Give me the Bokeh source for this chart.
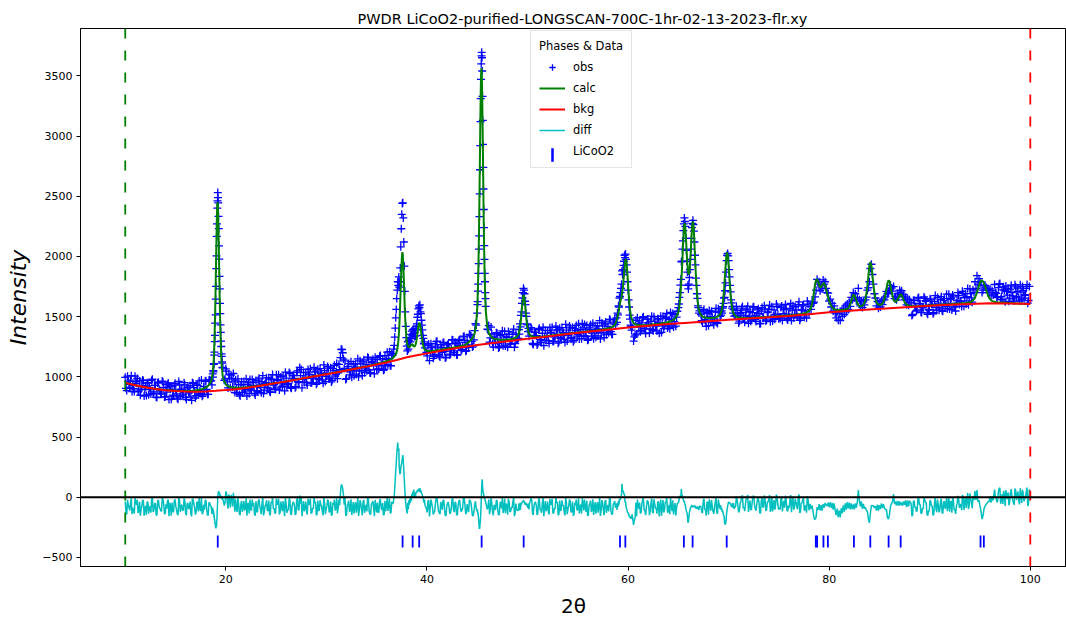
import numpy as np
from bokeh.plotting import figure
from bokeh.models import Range1d, Span, Legend, LegendItem, FixedTicker, BoxAnnotation
from bokeh.embed import file_html
from bokeh.resources import INLINE

# ---------------- data ----------------
bkg_x = [10, 11, 12, 13, 14, 15, 16, 17, 18, 19, 20, 21, 22, 23, 24, 25, 26, 27, 28, 29,
         30, 31, 32, 33, 34, 35, 36, 37, 38, 39, 40, 41, 42, 43, 44, 45, 46, 47, 48, 49,
         50, 52, 54, 56, 58, 60, 62, 64, 66, 68, 70, 72, 74, 76, 78, 80, 82, 84, 86, 88,
         90, 92, 94, 96, 98, 100]
bkg_y = [950, 930, 913, 899, 889, 882, 878, 877, 879, 884, 890, 898, 908, 920, 934, 948, 962, 977, 992, 1007,
         1022, 1037, 1053, 1069, 1085, 1102, 1120, 1140, 1163, 1180, 1195, 1210, 1225, 1239, 1252, 1264, 1275, 1286, 1296, 1306,
         1316, 1336, 1355, 1374, 1392, 1410, 1424, 1438, 1450, 1462, 1474, 1484, 1494, 1505, 1520, 1537, 1549, 1560, 1570, 1580,
         1590, 1598, 1606, 1612, 1610, 1605]

tick_pos = [19.20, 37.58, 38.58, 39.23, 45.44, 49.62, 59.20, 59.73, 65.55, 66.42, 69.81,
            78.67, 78.80, 79.43, 79.87, 82.46, 84.09, 85.91, 87.11, 95.05, 95.38]

# ---- observed / calculated intensities, scan pieces ----
obs_a = [996, 886, 963, 912, 1010, 928, 878, 963, 987, 883, 847, 930, 968, 894, 845, 949, 912, 857, 980, 874,
         929, 828, 955, 883, 856, 958, 832, 911, 937, 811, 896, 922, 841, 947, 859, 815, 934, 896, 849, 952,
         830, 908, 868, 927, 805, 946, 881, 843, 929, 966, 861, 839, 920, 963, 895, 855, 975, 966]
calc_a = [951, 948, 945, 942, 939, 936, 933, 930, 927, 924, 921, 918, 916, 913, 911, 909, 907, 905, 903, 901,
          900, 898, 897, 895, 894, 892, 891, 890, 889, 888, 887, 886, 885, 884, 884, 883, 883, 882, 882, 882,
          882, 882, 883, 883, 884, 885, 887, 889, 891, 893, 896, 899, 903, 908, 916, 926, 945, 964]

obs_w1 = [1025, 998, 1052, 1041, 1104, 1110, 1180, 1205, 1292, 1345, 1447, 1515, 1645, 1752, 1898, 2005, 2166, 2270, 2402, 2462,
          2530, 2488, 2445, 2332, 2231, 2088, 1978, 1835, 1731, 1610, 1525, 1432, 1370, 1296, 1252, 1190, 1170, 1125, 1114, 1079, 1074]
calc_w1 = [1031, 1050, 1077, 1111, 1147, 1197, 1252, 1318, 1395, 1487, 1579, 1687, 1808, 1930, 2051, 2168, 2278, 2364, 2425, 2450,
           2437, 2394, 2317, 2215, 2099, 1976, 1855, 1733, 1620, 1518, 1424, 1349, 1276, 1218, 1166, 1124, 1089, 1061, 1039, 1020, 1005]

obs_b = [971, 1067, 958, 1023, 912, 984, 1028, 870, 900, 984, 854, 934, 869, 961, 895, 841, 950, 979, 888, 927,
         863, 969, 880, 989, 911, 960, 861, 943, 992, 906, 881, 984, 1019, 935, 897, 969, 1018, 914, 952, 1007,
         884, 990, 936, 1037, 912, 984, 1012, 910, 1038, 960, 1078, 1062, 979, 954, 1036, 932, 1022, 1067, 951, 990,
         1039, 938, 1063, 987, 1030, 973, 1099, 961, 1030, 1072, 991, 958, 1068, 1096, 1021, 985, 1104, 1160, 1227, 1148,
         1132, 986, 1085, 1016, 1126, 1053, 1010, 1108, 1081, 999, 1133, 1055, 1124, 1035, 1104, 1163, 1057, 1033, 1129, 1094,
         1162, 1061, 1064, 1171, 1109, 1151, 1062, 1093, 1205, 1154, 1093, 1189]
calc_b = [961, 939, 926, 920, 916, 913, 911, 909, 909, 909, 910, 910, 911, 912, 912, 914, 915, 917, 919, 920,
          921, 923, 925, 927, 929, 930, 932, 935, 937, 939, 941, 943, 945, 947, 949, 950, 952, 954, 957, 959,
          961, 963, 965, 967, 970, 972, 974, 976, 979, 981, 983, 985, 988, 990, 992, 995, 997, 999, 1002, 1004,
          1006, 1008, 1011, 1013, 1015, 1017, 1020, 1022, 1024, 1026, 1029, 1031, 1033, 1036, 1038, 1040, 1043, 1045, 1047, 1050,
          1052, 1054, 1057, 1059, 1062, 1064, 1067, 1069, 1072, 1074, 1077, 1079, 1082, 1084, 1087, 1090, 1092, 1095, 1098, 1101,
          1104, 1107, 1110, 1113, 1116, 1120, 1124, 1128, 1132, 1137, 1142, 1147]

obs_w2 = [1195, 1230, 1262, 1330, 1405, 1490, 1560, 1650, 1720, 1790, 1760, 1830, 1745, 1790, 1905, 2080, 2230, 2350, 2440, 2445,
          2320, 2120, 1920, 1710, 1540, 1420, 1325, 1255, 1215, 1290, 1230, 1301, 1265, 1320, 1290, 1352, 1318, 1380, 1345, 1392,
          1360, 1398, 1335, 1372, 1340, 1395, 1420, 1440, 1495, 1520, 1565, 1590, 1575, 1598, 1540, 1525, 1470, 1430, 1390, 1345,
          1320, 1275, 1290, 1240]
calc_w2 = [1161, 1165, 1169, 1173, 1179, 1187, 1199, 1211, 1228, 1256, 1292, 1343, 1413, 1511, 1631, 1756, 1880, 1982, 2036, 2015,
           1933, 1816, 1689, 1566, 1468, 1393, 1339, 1294, 1270, 1256, 1249, 1246, 1248, 1251, 1256, 1264, 1268, 1271, 1271, 1264,
           1257, 1254, 1252, 1255, 1264, 1276, 1298, 1324, 1354, 1388, 1420, 1442, 1450, 1442, 1419, 1389, 1353, 1324, 1294, 1270,
           1253, 1239, 1230, 1224]

obs_c = [1204, 1259, 1135, 1275, 1209, 1171, 1256, 1296, 1187, 1164, 1244, 1284, 1210, 1162, 1265, 1239, 1189, 1309, 1215, 1289,
         1184, 1261, 1310, 1217, 1250, 1338, 1212, 1302, 1244, 1349, 1294, 1257, 1384, 1430]
calc_c = [1219, 1215, 1214, 1214, 1215, 1217, 1218, 1223, 1222, 1224, 1227, 1229, 1231, 1233, 1235, 1237, 1239, 1241, 1243, 1246,
          1248, 1250, 1253, 1256, 1259, 1263, 1268, 1278, 1286, 1300, 1311, 1330, 1364, 1440]

obs_w3 = [1530, 1600, 1625, 1712, 1770, 1860, 1940, 2060, 2170, 2330, 2520, 2720, 2920, 3120, 3310, 3470, 3600, 3665, 3695, 3650,
          3540, 3330, 3130, 2930, 2740, 2560, 2390, 2240, 2090, 1975, 1860, 1790, 1700, 1650, 1585]
calc_w3 = [1569, 1619, 1681, 1757, 1842, 1950, 2060, 2197, 2347, 2512, 2691, 2868, 3049, 3219, 3368, 3480, 3545, 3563, 3526, 3437,
           3311, 3150, 2978, 2801, 2622, 2445, 2287, 2152, 2016, 1904, 1807, 1727, 1654, 1601, 1550]

obs_d = [1397, 1426, 1324, 1356, 1248, 1321, 1367, 1277, 1248, 1350, 1382, 1297, 1256, 1328, 1377, 1272, 1309, 1365, 1246, 1354, 1310]
calc_d = [1417, 1364, 1342, 1326, 1319, 1313, 1312, 1310, 1308, 1309, 1308, 1309, 1308, 1309, 1311, 1312, 1314, 1317, 1323, 1327, 1339]

obs_w4 = [1320, 1392, 1355, 1440, 1415, 1510, 1540, 1610, 1655, 1700, 1735, 1720, 1690, 1628, 1600, 1530, 1502, 1440, 1432, 1375,
          1402, 1338, 1380]
calc_w4 = [1351, 1365, 1382, 1406, 1438, 1476, 1521, 1568, 1616, 1657, 1677, 1676, 1650, 1610, 1563, 1515, 1473, 1436, 1409, 1386,
           1372, 1360, 1352]

obs_e = [1409, 1277, 1345, 1370, 1265, 1391, 1312, 1286, 1412, 1328, 1302, 1384, 1278, 1368, 1412, 1295, 1333, 1382, 1280, 1404,
         1327, 1369, 1312, 1436, 1298, 1366, 1407, 1325, 1291, 1400, 1427, 1351, 1315, 1392, 1443, 1344, 1373, 1427, 1310, 1407,
         1338, 1446, 1373, 1328, 1425, 1398, 1315, 1448, 1371, 1439, 1350, 1419, 1478, 1375, 1353, 1455, 1435]
calc_e = [1339, 1335, 1333, 1332, 1331, 1332, 1333, 1334, 1335, 1337, 1338, 1340, 1341, 1343, 1344, 1346, 1347, 1349, 1350, 1352,
          1353, 1354, 1356, 1357, 1359, 1360, 1361, 1363, 1364, 1365, 1367, 1368, 1370, 1371, 1372, 1374, 1375, 1377, 1378, 1379,
          1381, 1382, 1384, 1385, 1386, 1389, 1390, 1392, 1395, 1397, 1399, 1402, 1405, 1410, 1415, 1424, 1442]

obs_w5 = [1490, 1452, 1530, 1515, 1590, 1580, 1655, 1668, 1700, 1735, 1770, 1880, 1850, 1890, 1925, 1960, 2010, 1990, 2020, 1975,
          1930, 1870, 1790, 1720, 1640, 1580, 1512, 1480, 1430, 1420, 1388, 1410]
calc_w5 = [1464, 1478, 1496, 1516, 1539, 1562, 1588, 1610, 1631, 1648, 1666, 1688, 1719, 1757, 1803, 1855, 1907, 1953, 1976, 1974,
           1945, 1897, 1836, 1766, 1705, 1647, 1596, 1556, 1527, 1503, 1486, 1472]

obs_f = [1297, 1347, 1356, 1439, 1465, 1385, 1491, 1403, 1360, 1479, 1446, 1399, 1504, 1383, 1462, 1422, 1483, 1362, 1504, 1439,
         1401, 1488, 1526, 1421, 1400, 1482, 1526, 1459, 1421, 1545]
calc_f = [1447, 1437, 1433, 1430, 1429, 1429, 1428, 1428, 1428, 1428, 1432, 1432, 1434, 1435, 1436, 1437, 1439, 1441, 1443, 1445,
          1447, 1450, 1453, 1456, 1460, 1465, 1471, 1480, 1492, 1515]

obs_w6 = [1575, 1605, 1660, 1700, 1762, 1810, 1955, 1960, 2060, 2130, 2215, 2270, 2320, 2290, 2250, 2150, 2050, 1960, 1870, 1760,
          1730, 1770, 1825, 1890, 1975, 2060, 2150, 2240, 2275, 2300, 2265, 2210, 2120, 2010, 1930, 1820, 1760, 1690, 1652, 1590,
          1575, 1530, 1548]
calc_w6 = [1540, 1559, 1584, 1622, 1666, 1728, 1804, 1874, 1963, 2063, 2149, 2231, 2271, 2272, 2232, 2163, 2086, 2005, 1938, 1889,
           1855, 1854, 1870, 1923, 1982, 2063, 2143, 2225, 2278, 2290, 2266, 2203, 2112, 2016, 1919, 1834, 1765, 1705, 1648, 1608,
           1578, 1556, 1540]

obs_g = [1517, 1451, 1561, 1465, 1534, 1425, 1500, 1545, 1451, 1481, 1569, 1444, 1533]
calc_g = [1515, 1501, 1493, 1493, 1491, 1489, 1489, 1488, 1490, 1490, 1494, 1500, 1509]

obs_w7 = [1502, 1540, 1512, 1548, 1530, 1570, 1582, 1610, 1655, 1660, 1715, 1780, 1870, 1965, 2010, 2025, 2005, 1965, 1890, 1830,
          1760, 1705, 1640, 1615, 1570, 1585, 1530, 1558, 1505]
calc_w7 = [1518, 1525, 1537, 1553, 1572, 1598, 1635, 1677, 1732, 1791, 1859, 1923, 1979, 2021, 2035, 2021, 1979, 1923, 1859, 1792,
           1733, 1678, 1636, 1599, 1573, 1554, 1538, 1526, 1519]

obs_h = [1511, 1553, 1447, 1524, 1570, 1481, 1454, 1554, 1587, 1502, 1462, 1534, 1582, 1476, 1512, 1566, 1441, 1546, 1491, 1591,
         1463, 1534, 1561, 1458, 1583, 1504, 1478, 1604, 1519, 1493, 1575, 1469, 1558, 1601, 1483, 1521, 1569, 1467, 1590, 1513,
         1556, 1499, 1623, 1485, 1554, 1598, 1517, 1488, 1604]
calc_h = [1504, 1498, 1493, 1491, 1490, 1489, 1489, 1488, 1488, 1489, 1489, 1490, 1491, 1491, 1492, 1493, 1493, 1494, 1495, 1496,
          1496, 1497, 1498, 1499, 1499, 1500, 1501, 1502, 1503, 1504, 1506, 1507, 1508, 1508, 1509, 1510, 1511, 1512, 1513, 1514,
          1516, 1518, 1519, 1521, 1523, 1527, 1530, 1536, 1544]

obs_w8 = [1520, 1585, 1560, 1622, 1610, 1620, 1665, 1720, 1810, 1770, 1790, 1715, 1760, 1730, 1805, 1770, 1790, 1735, 1700, 1695,
          1630, 1645, 1580, 1610, 1545, 1590, 1530]
calc_w8 = [1548, 1559, 1578, 1609, 1652, 1711, 1770, 1805, 1812, 1795, 1766, 1743, 1745, 1762, 1781, 1776, 1757, 1722, 1690, 1660,
           1632, 1606, 1588, 1576, 1567, 1561, 1559]

obs_w9 = [1490, 1540, 1470, 1525, 1468, 1545, 1502, 1570, 1518, 1590, 1540, 1605, 1560, 1620, 1585, 1660, 1640, 1700, 1660, 1690,
          1632, 1655, 1735, 1640, 1590, 1632, 1575, 1622, 1598, 1640, 1662, 1720, 1740, 1790, 1900, 1935, 1850, 1770, 1690, 1655,
          1590, 1625, 1570, 1612, 1580, 1632, 1600, 1648, 1640, 1665, 1710, 1690, 1700, 1730, 1760, 1738, 1712, 1750, 1650, 1668,
          1640, 1690, 1665, 1720, 1700, 1715, 1670, 1685, 1640, 1662, 1598, 1648, 1595, 1640]
calc_w9 = [1559, 1555, 1555, 1555, 1555, 1556, 1555, 1557, 1558, 1560, 1562, 1565, 1573, 1585, 1605, 1631, 1658, 1679, 1680, 1661,
           1637, 1613, 1596, 1587, 1586, 1586, 1591, 1598, 1613, 1642, 1693, 1757, 1839, 1923, 1953, 1922, 1842, 1761, 1698, 1649,
           1621, 1607, 1601, 1598, 1599, 1602, 1609, 1625, 1650, 1690, 1732, 1779, 1802, 1792, 1754, 1709, 1670, 1643, 1627, 1623,
           1628, 1641, 1656, 1675, 1685, 1678, 1660, 1639, 1622, 1608, 1599, 1594, 1590, 1590]

obs_i = [1615, 1518, 1636, 1585, 1557, 1659, 1609, 1534, 1573, 1651, 1627, 1519, 1555, 1640, 1601, 1534, 1675, 1553, 1613, 1572,
         1666, 1545, 1649, 1602, 1566, 1686, 1643, 1556, 1664, 1585, 1613, 1700, 1601, 1629, 1710, 1586, 1691, 1667, 1599, 1730,
         1656, 1722]
calc_i = [1587, 1586, 1586, 1587, 1587, 1588, 1588, 1589, 1590, 1591, 1592, 1592, 1593, 1594, 1595, 1595, 1596, 1597, 1598, 1598,
          1599, 1600, 1601, 1601, 1602, 1603, 1603, 1604, 1605, 1606, 1607, 1608, 1609, 1610, 1611, 1612, 1613, 1615, 1617, 1620,
          1625, 1635]

obs_w10 = [1700, 1790, 1735, 1840, 1770, 1815, 1790, 1760, 1700, 1720, 1760, 1760, 1745, 1730, 1720, 1700, 1730, 1672, 1718, 1680]
calc_w10 = [1644, 1658, 1678, 1701, 1729, 1759, 1784, 1798, 1801, 1793, 1776, 1754, 1725, 1699, 1677, 1658, 1646, 1637, 1631, 1627]

obs_j = [1767, 1694, 1666, 1769, 1643, 1722, 1748, 1623, 1709, 1734, 1654, 1761, 1672, 1629, 1747, 1709, 1661, 1764, 1641, 1719,
         1677, 1735, 1612, 1751]
calc_j = [1624, 1621, 1619, 1618, 1617, 1616, 1615, 1615, 1615, 1613, 1613, 1613, 1612, 1612, 1611, 1610, 1609, 1609, 1608, 1608,
          1607, 1606, 1606, 1605]

# ---- intermediate scan points (observed and calculated) between the points above ----
mid_a = [905, 1006, 938, 973, 877, 901, 1006, 947, 878, 966, 897, 974, 841, 922, 950, 852, 896, 969, 860, 929,
         832, 948, 895, 865, 965, 913, 836, 873, 949, 923, 814, 848, 931, 890, 823, 962, 839, 897, 856, 934,
         812, 915, 869, 832, 952, 910, 824, 933, 855, 884, 973, 851, 882, 967, 855, 972, 965, 933]
mcalc_a = [950, 947, 944, 941, 938, 935, 932, 929, 926, 923, 920, 917, 915, 912, 910, 908, 906, 904, 902, 901,
           899, 898, 896, 895, 893, 892, 891, 890, 889, 888, 887, 886, 885, 884, 884, 883, 883, 882, 882, 882,
           882, 883, 883, 884, 885, 886, 888, 890, 892, 895, 898, 901, 906, 912, 921, 934, 953, 991]
mid_b = [983, 1047, 908, 987, 1014, 915, 959, 973, 866, 937, 842, 960, 909, 882, 984, 935, 861, 901, 979, 955,
         849, 886, 972, 934, 868, 1010, 889, 951, 912, 992, 872, 977, 932, 897, 1017, 976, 890, 999, 922, 951,
         1039, 916, 945, 1027, 905, 1011, 987, 919, 1050, 953, 1011, 909, 1037, 986, 953, 1062, 1017, 948, 991, 1079,
         1048, 949, 979, 1069, 1024, 947, 1051, 1005, 1087, 982, 1075, 970, 1052, 1007, 1110, 1033, 1059, 1229, 1200, 1070,
         979, 1067, 1110, 1041, 997, 1105, 1073, 1022, 1150, 1048, 1107, 1010, 1141, 1073, 1050, 1157, 1034, 1117, 1147, 1025,
         1114, 1144, 1067, 1177, 1093, 1054, 1177, 1144, 1101, 1209, 1092, 1178]
mcalc_b = [947, 931, 923, 918, 915, 912, 910, 909, 909, 909, 910, 910, 911, 912, 913, 914, 916, 918, 919, 920,
           922, 924, 926, 928, 929, 931, 933, 936, 938, 940, 942, 944, 946, 948, 949, 951, 953, 955, 958, 960,
           962, 964, 966, 968, 971, 973, 975, 977, 980, 982, 984, 986, 989, 991, 993, 996, 998, 1000, 1003, 1005,
           1007, 1009, 1012, 1014, 1016, 1018, 1021, 1023, 1025, 1027, 1030, 1032, 1034, 1037, 1039, 1041, 1044, 1046, 1048, 1051,
           1053, 1055, 1058, 1060, 1063, 1065, 1068, 1070, 1073, 1075, 1078, 1080, 1083, 1085, 1088, 1091, 1093, 1096, 1099, 1102,
           1105, 1108, 1111, 1114, 1118, 1122, 1126, 1130, 1134, 1139, 1144, 1152]
mid_c = [1174, 1273, 1207, 1246, 1154, 1183, 1293, 1240, 1174, 1267, 1204, 1286, 1157, 1243, 1275, 1181, 1229, 1306, 1202, 1275,
         1181, 1302, 1253, 1228, 1332, 1287, 1218, 1265, 1353, 1340, 1247, 1307, 1441]
mcalc_c = [1220, 1215, 1214, 1215, 1216, 1218, 1220, 1223, 1223, 1225, 1228, 1230, 1232, 1234, 1236, 1238, 1240, 1242, 1245, 1247,
           1249, 1252, 1255, 1258, 1261, 1266, 1273, 1282, 1293, 1305, 1320, 1345, 1395]
mid_d = [1392, 1289, 1413, 1278, 1331, 1286, 1362, 1240, 1342, 1295, 1258, 1377, 1334, 1246, 1353, 1274, 1307, 1397, 1277, 1312]
mcalc_d = [1386, 1350, 1334, 1322, 1316, 1312, 1310, 1309, 1309, 1308, 1309, 1309, 1309, 1310, 1312, 1313, 1316, 1320, 1325, 1333]
mid_e = [1396, 1268, 1370, 1343, 1274, 1403, 1305, 1362, 1259, 1386, 1334, 1301, 1408, 1363, 1293, 1335, 1422, 1391, 1291, 1320,
         1409, 1363, 1286, 1388, 1342, 1423, 1317, 1409, 1303, 1384, 1338, 1440, 1363, 1317, 1406, 1435, 1335, 1304, 1391, 1432,
         1363, 1317, 1425, 1391, 1340, 1467, 1364, 1423, 1326, 1456, 1388, 1366, 1474, 1353, 1440, 1480]
mcalc_e = [1337, 1334, 1332, 1331, 1332, 1333, 1334, 1335, 1336, 1338, 1339, 1341, 1342, 1344, 1345, 1347, 1348, 1350, 1351, 1353,
           1354, 1355, 1357, 1358, 1360, 1361, 1362, 1364, 1365, 1366, 1368, 1369, 1371, 1372, 1373, 1375, 1376, 1378, 1379, 1380,
           1382, 1383, 1385, 1386, 1388, 1390, 1391, 1394, 1396, 1398, 1400, 1404, 1408, 1412, 1419, 1432]
mid_f = [1332, 1470, 1491, 1413, 1374, 1449, 1499, 1398, 1426, 1480, 1364, 1461, 1391, 1499, 1425, 1381, 1479, 1451, 1369, 1502,
         1424, 1493, 1405, 1475, 1535, 1433, 1413, 1517, 1496]
mcalc_f = [1442, 1435, 1431, 1430, 1429, 1428, 1428, 1428, 1428, 1430, 1432, 1433, 1434, 1435, 1436, 1438, 1440, 1442, 1444, 1446,
           1448, 1451, 1454, 1458, 1462, 1468, 1475, 1486, 1503]
mid_g = [1466, 1546, 1476, 1419, 1525, 1551, 1457, 1496, 1432, 1538, 1452, 1566]
mcalc_g = [1508, 1497, 1493, 1492, 1490, 1489, 1488, 1489, 1490, 1492, 1497, 1504]
mid_h = [1586, 1503, 1462, 1536, 1585, 1484, 1511, 1563, 1445, 1542, 1472, 1579, 1505, 1460, 1556, 1527, 1444, 1575, 1496, 1563,
         1472, 1539, 1596, 1489, 1463, 1556, 1519, 1585, 1482, 1484, 1589, 1525, 1502, 1564, 1472, 1500, 1609, 1554, 1489, 1582,
         1518, 1599, 1470, 1556, 1589, 1496, 1547, 1629]
mcalc_h = [1501, 1495, 1492, 1490, 1489, 1489, 1488, 1488, 1488, 1489, 1490, 1490, 1491, 1492, 1492, 1493, 1494, 1494, 1495, 1496,
           1496, 1497, 1498, 1499, 1500, 1500, 1501, 1502, 1503, 1505, 1506, 1507, 1508, 1508, 1509, 1510, 1511, 1512, 1513, 1515,
           1517, 1518, 1520, 1522, 1525, 1528, 1533, 1540]
mid_i = [1509, 1634, 1581, 1547, 1653, 1607, 1536, 1577, 1664, 1632, 1532, 1559, 1648, 1602, 1524, 1626, 1578, 1659, 1553, 1643,
         1552, 1633, 1586, 1687, 1609, 1563, 1651, 1679, 1579, 1547, 1634, 1675, 1630, 1584, 1691, 1657, 1606, 1733, 1631, 1691,
         1620]
mcalc_i = [1586, 1586, 1586, 1587, 1587, 1588, 1588, 1589, 1590, 1591, 1592, 1592, 1593, 1594, 1595, 1596, 1596, 1597, 1598, 1598,
           1599, 1600, 1601, 1601, 1602, 1603, 1603, 1604, 1605, 1606, 1607, 1608, 1609, 1610, 1611, 1612, 1614, 1616, 1618, 1622,
           1630]
mid_j = [1701, 1659, 1741, 1775, 1666, 1640, 1717, 1755, 1678, 1627, 1728, 1699, 1647, 1764, 1667, 1737, 1630, 1704, 1750, 1653,
         1682, 1766, 1634]
mcalc_j = [1622, 1620, 1618, 1617, 1616, 1615, 1615, 1615, 1614, 1613, 1613, 1612, 1612, 1611, 1610, 1609, 1609, 1608, 1608, 1607,
           1606, 1606, 1605]

scan_pieces = [
    (10.00, 0.15, obs_a, calc_a), (18.70, 0.025, obs_w1, calc_w1), (19.85, 0.15, obs_b, calc_b),
    (36.65, 0.05, obs_w2, calc_w2), (39.95, 0.15, obs_c, calc_c), (45.00, 0.025, obs_w3, calc_w3),
    (46.00, 0.15, obs_d, calc_d), (49.10, 0.05, obs_w4, calc_w4), (50.35, 0.15, obs_e, calc_e),
    (58.85, 0.05, obs_w5, calc_w5), (60.55, 0.15, obs_f, calc_f), (65.00, 0.05, obs_w6, calc_w6),
    (67.25, 0.15, obs_g, calc_g), (69.15, 0.05, obs_w7, calc_w7), (70.70, 0.15, obs_h, calc_h),
    (78.00, 0.10, obs_w8, calc_w8), (80.70, 0.10, obs_w9, calc_w9), (88.15, 0.15, obs_i, calc_i),
    (94.40, 0.10, obs_w10, calc_w10), (96.45, 0.15, obs_j, calc_j),
]
mid_pieces = [
    (10.075, 0.15, mid_a, mcalc_a), (19.925, 0.15, mid_b, mcalc_b), (40.025, 0.15, mid_c, mcalc_c),
    (46.075, 0.15, mid_d, mcalc_d), (50.425, 0.15, mid_e, mcalc_e), (60.625, 0.15, mid_f, mcalc_f),
    (67.325, 0.15, mid_g, mcalc_g), (70.775, 0.15, mid_h, mcalc_h), (88.225, 0.15, mid_i, mcalc_i),
    (96.525, 0.15, mid_j, mcalc_j),
]

DIFF_SHIFT = -80      # vertical offset of the difference curve
TICK_LEVEL = -368     # vertical level of the reflection markers


def collect(pieces):
    xs, o_all, c_all = [], [], []
    for start, step, o, c in pieces:
        n = min(len(o), len(c))
        xs.extend(start + step * np.arange(n))
        o_all.extend(o[:n])
        c_all.extend(c[:n])
    return np.array(xs), np.array(o_all, float), np.array(c_all, float)


tt, yo, yc = collect(scan_pieces)
order = np.argsort(tt)
tt, yo, yc = tt[order], yo[order], yc[order]

tm, ym, ycm = collect(mid_pieces)
all_x = np.concatenate([tt, tm])
all_o = np.concatenate([yo, ym])
all_c = np.concatenate([yc, ycm])
order = np.argsort(all_x)
all_x, all_o, all_c = all_x[order], all_o[order], all_c[order]
all_diff = all_o - all_c + DIFF_SHIFT

FONT = "DejaVu Sans"
p = figure(width=1066, height=623, output_backend="svg", toolbar_location=None,
           x_range=Range1d(5.55, 103.6), y_range=Range1d(-575, 3893),
           min_border_left=80, min_border_right=0, min_border_top=28, min_border_bottom=57,
           title="PWDR LiCoO2-purified-LONGSCAN-700C-1hr-02-13-2023-flr.xy")
p.title.text_font = FONT
p.title.text_font_size = "14.5px"
p.title.text_font_style = "normal"
p.title.text_color = "black"
p.title.align = "left"
p.title.offset = 277
p.title.standoff = 4
p.xgrid.visible = False
p.ygrid.visible = False
p.outline_line_color = "black"
p.outline_line_alpha = 1
p.background_fill_color = "white"

r_obs = p.scatter(all_x, all_o, marker="cross", size=8, line_color="#0000ff", line_width=1.3)
r_calc = p.line(tt, yc, line_color="#008000", line_width=2)
r_bkg = p.line(bkg_x, bkg_y, line_color="#ff0000", line_width=2)
r_diff = p.line(all_x, all_diff, line_color="#00bfbf", line_width=1.5)
r_tick = p.scatter(tick_pos, [TICK_LEVEL] * len(tick_pos), marker="dash", angle=90, angle_units="deg",
                   size=12, line_color="#0000ff", line_width=1.8)
r_tick_key = p.scatter([], [], marker="dash", size=1, line_alpha=0, fill_alpha=0)

p.add_layout(Span(location=10, dimension="height", line_color="#008000", line_dash="10 12", line_width=1.8))
p.add_layout(Span(location=100, dimension="height", line_color="#ff0000", line_dash="10 12", line_width=1.8))
p.add_layout(Span(location=0, dimension="width", line_color="black", line_width=2))

p.xaxis.ticker = FixedTicker(ticks=[20, 40, 60, 80, 100])
p.yaxis.ticker = FixedTicker(ticks=[-500, 0, 500, 1000, 1500, 2000, 2500, 3000, 3500])
for ax in (p.xaxis[0], p.yaxis[0]):
    ax.minor_tick_line_color = None
    ax.major_tick_in = 0
    ax.major_tick_out = 4
    ax.major_tick_line_color = "black"
    ax.axis_line_color = "black"
    ax.major_label_text_font = FONT
    ax.major_label_text_font_size = "11px"
    ax.major_label_text_color = "black"
    ax.axis_label_text_font = FONT
    ax.axis_label_text_color = "black"
    ax.major_label_standoff = 4

p.xaxis.axis_label = "2θ"
p.xaxis.axis_label_text_font_size = "20px"
p.xaxis.axis_label_text_font_style = "normal"
p.xaxis.axis_label_standoff = 8
p.yaxis.axis_label = "Intensity"
p.yaxis.axis_label_text_font_size = "22px"
p.yaxis.axis_label_text_font_style = "italic"
p.yaxis.axis_label_standoff = 8

legend = Legend(items=[LegendItem(label="obs", renderers=[r_obs]),
                       LegendItem(label="calc", renderers=[r_calc]),
                       LegendItem(label="bkg", renderers=[r_bkg]),
                       LegendItem(label="diff", renderers=[r_diff]),
                       LegendItem(label="LiCoO2", renderers=[r_tick_key])],
                title="Phases & Data", location=(450, 398))
legend.title_text_font = FONT
legend.title_text_font_size = "11.5px"
legend.title_text_font_style = "normal"
legend.title_text_color = "black"
legend.title_standoff = 6
legend.label_text_font = FONT
legend.label_text_font_size = "11.5px"
legend.label_text_color = "black"
legend.border_line_color = "#cccccc"
legend.border_line_width = 1
legend.background_fill_color = "white"
legend.background_fill_alpha = 0.0
legend.glyph_width = 26
legend.glyph_height = 16
legend.label_height = 16
legend.spacing = 5
legend.padding = 8
legend.margin = 0
legend.label_standoff = 8
p.add_layout(legend, "center")

# vertical bar key for the reflection markers inside the legend
p.add_layout(BoxAnnotation(left=471, right=473, bottom=405, top=418,
                           left_units="screen", right_units="screen",
                           bottom_units="screen", top_units="screen",
                           fill_color="#0000ff", fill_alpha=1.0,
                           line_color="#0000ff", line_alpha=1.0, line_width=0.5,
                           level="overlay"))

open("out.html", "w").write(file_html(p, INLINE))
